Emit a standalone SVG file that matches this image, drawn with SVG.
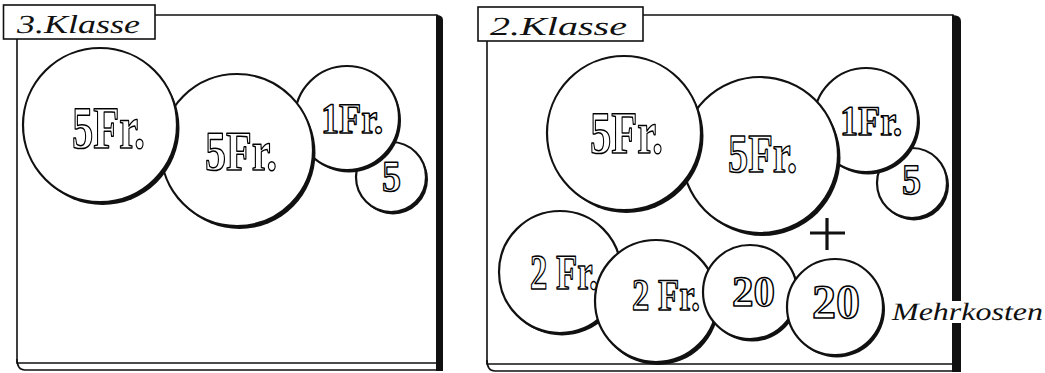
<svg xmlns="http://www.w3.org/2000/svg" width="1045" height="373" viewBox="0 0 1045 373">
<style>
.bg{fill:#fff}
.edge{fill:none;stroke:#111;stroke-width:1.6}
.bar{fill:#111}
.label{fill:#fff;stroke:#111;stroke-width:1.6}
.coin{fill:#fff;stroke:#111;stroke-width:2.2}
.shadow{fill:#111}
.val{font-family:"Liberation Serif",serif;font-weight:bold;fill:#fff;stroke:#000;stroke-width:1.5;stroke-linejoin:round;text-rendering:geometricPrecision}
.hand{font-family:"Liberation Serif",serif;font-style:italic;fill:#111;text-rendering:geometricPrecision}
.plus{stroke:#111;stroke-width:3.2;fill:none}
</style>
<rect class="bg" x="0" y="0" width="1045" height="373"/>

<!-- Left board: 3. Klasse -->
<g id="board-3klasse">
  <path class="edge" d="M155,15 L437,15 L437,363 L17,363 L17,39"/>
  <path class="bar" d="M436,15 Q443,15 443,20 L443,371 L436,371 Z"/>
  <path class="edge" d="M17,359 Q17,370 25,370 L443,370"/>
</g>
<g id="label-3klasse">
  <rect class="label" x="3.5" y="5" width="151.5" height="34"/>
  <text class="hand" x="17" y="33" font-size="26" textLength="123" lengthAdjust="spacingAndGlyphs">3.Klasse</text>
</g>

<g id="coin-l-5rp">
  <circle class="shadow" cx="393" cy="179.5" r="35"/>
  <circle class="coin" cx="391" cy="177" r="35"/>
  <text class="val" x="382" y="191" font-size="44" textLength="19" lengthAdjust="spacingAndGlyphs">5</text>
</g>
<g id="coin-l-1fr">
  <circle class="shadow" cx="349" cy="120.5" r="52"/>
  <circle class="coin" cx="347" cy="118" r="52"/>
  <text class="val" x="321" y="133" font-size="43" textLength="62" lengthAdjust="spacingAndGlyphs">1Fr.</text>
</g>
<g id="coin-l-5fr-2">
  <circle class="shadow" cx="239.5" cy="153" r="76"/>
  <circle class="coin" cx="237" cy="150" r="76"/>
  <text class="val" x="205" y="170" font-size="56" textLength="72" lengthAdjust="spacingAndGlyphs">5Fr.</text>
</g>
<g id="coin-l-5fr-1">
  <circle class="shadow" cx="102.5" cy="128" r="77"/>
  <circle class="coin" cx="100" cy="125" r="77"/>
  <text class="val" x="72" y="148" font-size="60" textLength="73" lengthAdjust="spacingAndGlyphs">5Fr.</text>
</g>

<!-- Right board: 2. Klasse -->
<g id="board-2klasse">
  <path class="edge" d="M643,15 L953,15 L953,364 L487,364 L487,41"/>
  <path class="bar" d="M952,15 Q961,15 961,21 L961,372 L952,372 Z"/>
  <path class="edge" d="M487,360 Q487,371 495,371 L961,371"/>
</g>
<g id="label-2klasse">
  <rect class="label" x="478" y="7" width="165" height="34"/>
  <text class="hand" x="490" y="35" font-size="26" textLength="137" lengthAdjust="spacingAndGlyphs">2.Klasse</text>
</g>

<g id="coin-r-5rp">
  <circle class="shadow" cx="914" cy="185.5" r="35"/>
  <circle class="coin" cx="912" cy="183" r="35"/>
  <text class="val" x="902" y="194" font-size="43" textLength="19" lengthAdjust="spacingAndGlyphs">5</text>
</g>
<g id="coin-r-1fr">
  <circle class="shadow" cx="868" cy="122.5" r="52"/>
  <circle class="coin" cx="866" cy="120" r="52"/>
  <text class="val" x="840" y="135" font-size="42" textLength="62" lengthAdjust="spacingAndGlyphs">1Fr.</text>
</g>
<g id="coin-r-5fr-2">
  <circle class="shadow" cx="762.5" cy="158" r="78"/>
  <circle class="coin" cx="760" cy="155" r="78"/>
  <text class="val" x="728" y="172" font-size="55" textLength="69" lengthAdjust="spacingAndGlyphs">5Fr.</text>
</g>
<g id="coin-r-5fr-1">
  <circle class="shadow" cx="626.5" cy="136" r="77"/>
  <circle class="coin" cx="624" cy="133" r="77"/>
  <text class="val" x="590" y="153" font-size="60" textLength="73" lengthAdjust="spacingAndGlyphs">5Fr.</text>
</g>

<g id="coin-r-2fr-1">
  <circle class="shadow" cx="562" cy="274.5" r="61"/>
  <circle class="coin" cx="560" cy="272" r="61"/>
  <text class="val" x="530" y="289" font-size="50" textLength="68" lengthAdjust="spacingAndGlyphs">2 Fr.</text>
</g>
<g id="coin-r-2fr-2">
  <circle class="shadow" cx="658" cy="304" r="61"/>
  <circle class="coin" cx="656" cy="301" r="61"/>
  <text class="val" x="632" y="310" font-size="45" textLength="68" lengthAdjust="spacingAndGlyphs">2 Fr.</text>
</g>
<g id="coin-r-20-1">
  <circle class="shadow" cx="752" cy="294.5" r="47"/>
  <circle class="coin" cx="750" cy="292" r="47"/>
  <text class="val" x="732" y="306" font-size="43" textLength="43" lengthAdjust="spacingAndGlyphs">20</text>
</g>
<g id="coin-r-20-2">
  <circle class="shadow" cx="837" cy="309.5" r="48"/>
  <circle class="coin" cx="835" cy="307" r="48"/>
  <text class="val" x="812" y="318" font-size="48" textLength="48" lengthAdjust="spacingAndGlyphs">20</text>
</g>

<g id="plus">
  <path class="plus" d="M810,233 L845,233 M827,218 L827,250"/>
</g>
<g id="mehrkosten">
  <rect class="bg" x="950" y="301" width="14" height="22"/>
  <text class="hand" x="892" y="320" font-size="25" textLength="151" lengthAdjust="spacingAndGlyphs">Mehrkosten</text>
</g>

<g id="connectors"></g>
</svg>
